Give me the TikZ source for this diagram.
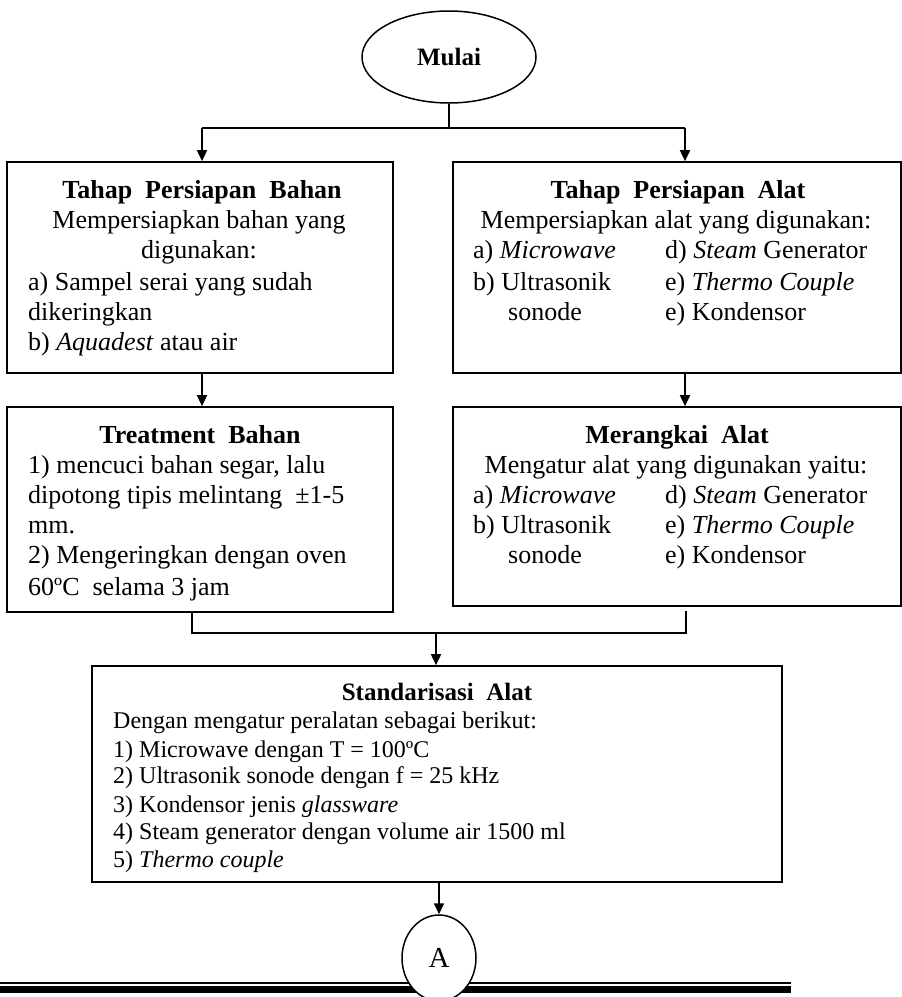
\documentclass[tikz,border=0pt]{standalone}
\usepackage{fontspec}
\setmainfont{Liberation Serif}
\usetikzlibrary{shapes.geometric,arrows.meta}
\begin{document}
\begin{tikzpicture}[x=1pt,y=-1pt,
  box/.style={draw, line width=1.7pt, rectangle, inner sep=0pt},
  txt/.style={inner sep=0pt, font=\fontsize{26}{30}\selectfont},
  ttl/.style={inner sep=0pt, font=\fontsize{26}{30}\selectfont\bfseries},
  stxt/.style={inner sep=0pt, font=\fontsize{24}{28}\selectfont},
  conn/.style={line width=1.8pt},
  arr/.style={line width=1.8pt, -{Triangle[length=11pt,width=10pt]}},
  oval/.style={draw, ellipse, line width=1.5pt, inner sep=0pt, fill=white},
]
\useasboundingbox (0,0) rectangle (902,997);

% start
\node[oval, minimum width=174pt, minimum height=92pt, font=\fontsize{25}{30}\selectfont\bfseries] (m) at (449,57) {Mulai};

% boxes
\node[box, minimum width=386pt, minimum height=211pt] (b1) at (200,267.5) {};
\node[box, minimum width=448pt, minimum height=211pt] (b2) at (677,267.5) {};
\node[box, minimum width=386pt, minimum height=205pt] (b3) at (200,509.5) {};
\node[box, minimum width=448pt, minimum height=199pt] (b4) at (677,506.5) {};
\node[box, minimum width=690pt, minimum height=216pt] (b5) at (437,774) {};

% box 1 text
\node[ttl, anchor=base] (t11) at (202,198) {Tahap\ \ Persiapan\ \ Bahan};
\node[txt, anchor=base] (t12) at (199,228) {Mempersiapkan bahan yang};
\node[txt, anchor=base] (t13) at (199,258) {digunakan:};
\node[txt, anchor=base west] (t14) at (28,290) {a) Sampel serai yang sudah};
\node[txt, anchor=base west] (t15) at (28,320) {dikeringkan};
\node[txt, anchor=base west] (t16) at (28,350) {b) \textit{Aquadest} atau air};

% box 2 text
\node[ttl, anchor=base] (t21) at (678,198) {Tahap\ \ Persiapan\ \ Alat};
\node[txt, anchor=base] (t22) at (676,228) {Mempersiapkan alat yang digunakan:};
\node[txt, anchor=base west] (t23) at (473,258) {a) \textit{Microwave}};
\node[txt, anchor=base west] (t24) at (665,258) {d) \textit{Steam} Generator};
\node[txt, anchor=base west] (t25) at (473,290) {b) Ultrasonik};
\node[txt, anchor=base west] (t26) at (665,290) {e) \textit{Thermo Couple}};
\node[txt, anchor=base west] (t27) at (508,320) {sonode};
\node[txt, anchor=base west] (t28) at (665,320) {e) Kondensor};

% box 3 text
\node[ttl, anchor=base] (t31) at (200,443) {Treatment\ \ Bahan};
\node[txt, anchor=base west] (t32) at (28,473) {1) mencuci bahan segar, lalu};
\node[txt, anchor=base west] (t33) at (28,503) {dipotong tipis melintang \ ±1-5};
\node[txt, anchor=base west] (t34) at (28,533) {mm.};
\node[txt, anchor=base west] (t35) at (28,563) {2) Mengeringkan dengan oven};
\node[txt, anchor=base west] (t36) at (28,595) {60ºC \ selama 3 jam};

% box 4 text
\node[ttl, anchor=base] (t41) at (677,443) {Merangkai\ \ Alat};
\node[txt, anchor=base] (t42) at (676,473) {Mengatur alat yang digunakan yaitu:};
\node[txt, anchor=base west] (t43) at (473,503) {a) \textit{Microwave}};
\node[txt, anchor=base west] (t44) at (665,503) {d) \textit{Steam} Generator};
\node[txt, anchor=base west] (t45) at (473,533) {b) Ultrasonik};
\node[txt, anchor=base west] (t46) at (665,533) {e) \textit{Thermo Couple}};
\node[txt, anchor=base west] (t47) at (508,563) {sonode};
\node[txt, anchor=base west] (t48) at (665,563) {e) Kondensor};

% box 5 text
\node[ttl, anchor=base, font=\fontsize{25}{30}\selectfont\bfseries] (t51) at (437,700) {Standarisasi\ \ Alat};
\node[stxt, anchor=base west] (t52) at (113,728) {Dengan mengatur peralatan sebagai berikut:};
\node[stxt, anchor=base west] (t53) at (113,757) {1) Microwave dengan T = 100ºC};
\node[stxt, anchor=base west] (t54) at (113,783) {2) Ultrasonik sonode dengan f = 25 kHz};
\node[stxt, anchor=base west] (t55) at (113,812) {3) Kondensor jenis \textit{glassware}};
\node[stxt, anchor=base west] (t56) at (113,839) {4) Steam generator dengan volume air 1500 ml};
\node[stxt, anchor=base west] (t57) at (113,867) {5) \textit{Thermo couple}};

% connectors
\coordinate (j1) at (449,128);
\coordinate (jl) at (202,128);
\coordinate (jr) at (685,128);
\draw[conn] (m.south) -- (j1);
\draw[conn] (jl) -- (jr);
\draw[arr] (jl) -- (jl |- b1.north);
\draw[arr] (jr) -- (jr |- b2.north);
\draw[arr] (jl |- b1.south) -- (jl |- b3.north);
\draw[arr] (jr |- b2.south) -- (jr |- b4.north);

\coordinate (kl) at (192,633);
\coordinate (kr) at (686,633);
\coordinate (kc) at (436,633);
\draw[conn] (kl |- b3.south) -- (kl) -- (kr) -- ([yshift=-4pt]kr |- b4.south);
\draw[arr] (kc) -- (kc |- b5.north);

% footer rule
\draw[line width=2.5pt] (0,983) -- (791,983);
\draw[line width=7pt] (0,989.5) -- (791,989.5);

% connector end
\node[oval, minimum width=74pt, minimum height=86pt, font=\fontsize{29}{32}\selectfont] (a) at (439,958) {A};
\draw[arr] (a.north |- b5.south) -- (a.north);
\end{tikzpicture}
\end{document}
